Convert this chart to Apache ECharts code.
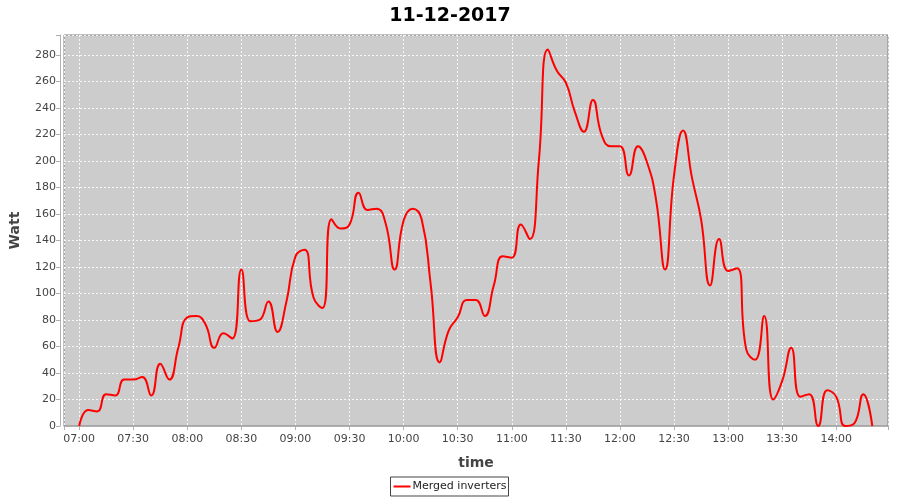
<!DOCTYPE html>
<html><head><meta charset="utf-8">
<script src="https://cdn.jsdelivr.net/npm/echarts@6/dist/echarts.min.js"></script>
<style>html,body{margin:0;padding:0;background:#fff}#c{width:900px;height:500px}</style>
</head><body><div id="c"></div>
<script>
const chartTitle = '11-12-2017';
const seriesName = 'Merged inverters';
const times = [
 '07:00','07:05','07:10','07:15','07:20','07:25','07:30','07:35','07:40','07:45','07:50','07:55',
 '08:00','08:05','08:10','08:15','08:20','08:25','08:30','08:35','08:40','08:45','08:50','08:55',
 '09:00','09:05','09:10','09:15','09:20','09:25','09:30','09:35','09:40','09:45','09:50','09:55',
 '10:00','10:05','10:10','10:15','10:20','10:25','10:30','10:35','10:40','10:45','10:50','10:55',
 '11:00','11:05','11:10','11:15','11:20','11:25','11:30','11:35','11:40','11:45','11:50','11:55',
 '12:00','12:05','12:10','12:15','12:20','12:25','12:30','12:35','12:40','12:45','12:50','12:55',
 '13:00','13:05','13:10','13:15','13:20','13:25','13:30','13:35','13:40','13:45','13:50','13:55',
 '14:00','14:05','14:10','14:15','14:20'];
const watts = [
 0,12,11,24,23,35,35,37,23,47,35,59,
 82,83,77,59,70,66,118,79,80,94,71,94,
 128,133,97,89,156,149,152,176,163,164,153,118,
 155,164,156,107,48,72,82,95,95,83,106,128,
 127,152,141,200,284,268,259,237,222,246,219,211,
 211,189,211,199,171,118,189,223,187,156,106,141,
 117,119,58,50,83,20,34,59,22,24,0,27,
 22,0,2,24,0];
const xTickLabels = ['07:00','07:30','08:00','08:30','09:00','09:30','10:00','10:30','11:00','11:30','12:00','12:30','13:00','13:30','14:00'];
const yTickLabels = [0,20,40,60,80,100,120,140,160,180,200,220,240,260,280];

const toMin = s => { const p = s.split(':'); return (+p[0]) * 60 + (+p[1]); };
const fmt = m => String(Math.floor(m / 60)).padStart(2, '0') + ':' + String(Math.round(m % 60)).padStart(2, '0');
const tickSet = new Set(xTickLabels.map(toMin));
const ySet = new Set(yTickLabels);
const data = times.map((t, i) => [toMin(t), watts[i]]);
const FONT = 'DejaVu Sans';

const chart = echarts.init(document.getElementById('c'), null, {renderer: 'canvas'});
chart.setOption({
  animation: false,
  backgroundColor: '#ffffff',
  textStyle: {fontFamily: FONT},
  title: {text: chartTitle, left: 'center', top: 2,
    textStyle: {fontFamily: FONT, fontSize: 19, fontWeight: 'bold', color: '#000'}},
  grid: {left: 64, top: 35, width: 824, height: 391, show: true,
    backgroundColor: '#cccccc', borderColor: '#808080', borderWidth: 1, containLabel: false},
  legend: {data: [seriesName], left: 'center', top: 477, icon: 'rect', itemWidth: 17, itemHeight: 2,
    itemGap: 4, padding: [4, 2, 4, 3], borderColor: '#444', borderWidth: 1, backgroundColor: '#fff',
    textStyle: {fontFamily: FONT, fontSize: 11, color: '#222', padding: [0, 0, 0, -3]}},
  xAxis: {type: 'value', min: 411.6, max: 868.7, minInterval: 30, maxInterval: 30, splitNumber: 15,
    offset: 4,
    name: 'time', nameLocation: 'middle', nameGap: 26,
    nameTextStyle: {fontFamily: FONT, fontSize: 14, fontWeight: 'bold', color: '#444'},
    axisLine: {show: true, lineStyle: {color: '#b0b0b0', width: 1}},
    axisTick: {show: true, length: 4, lineStyle: {color: '#b0b0b0'}},
    axisLabel: {show: true, margin: 4, color: '#444', fontSize: 11, fontFamily: FONT,
      formatter: v => tickSet.has(Math.round(v * 1000) / 1000) ? fmt(v) : ''},
    splitLine: {show: true, lineStyle: {color: 'rgba(255,255,255,0.85)', width: 1, type: [2, 2]}}},
  yAxis: {type: 'value', min: 0, max: 295, minInterval: 20, maxInterval: 20, splitNumber: 15,
    offset: 4,
    name: 'Watt', nameLocation: 'middle', nameGap: 38, nameRotate: 90,
    nameTextStyle: {fontFamily: FONT, fontSize: 14, fontWeight: 'bold', color: '#444'},
    axisLine: {show: true, lineStyle: {color: '#b0b0b0', width: 1}},
    axisTick: {show: true, length: 4, lineStyle: {color: '#b0b0b0'}},
    axisLabel: {show: true, margin: 4, color: '#444', fontSize: 11, fontFamily: FONT,
      formatter: v => ySet.has(v) ? String(v) : ''},
    splitLine: {show: true, lineStyle: {color: 'rgba(255,255,255,0.85)', width: 1, type: [2, 2]}}},
  series: [{name: seriesName, type: 'line', data: data, smooth: 0.5, showSymbol: false,
    symbol: 'none', clip: true,
    lineStyle: {color: '#ff0000', width: 2}, itemStyle: {color: '#ff0000'}}]
});
</script></body></html>
